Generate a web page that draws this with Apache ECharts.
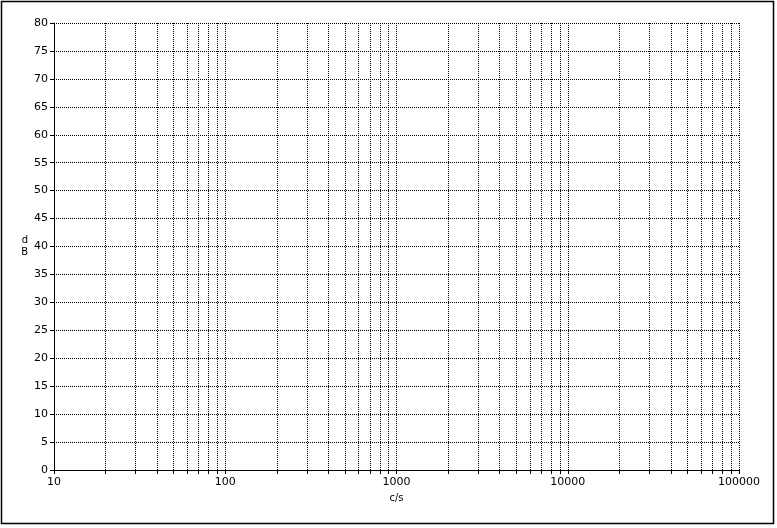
<!DOCTYPE html>
<html>
<head>
<meta charset="utf-8">
<script src="https://cdn.jsdelivr.net/npm/echarts@6/dist/echarts.min.js"></script>
<style>
html, body { margin: 0; padding: 0; background: #fff; }
#chart { width: 777px; height: 528px; }
</style>
</head>
<body>
<div id="chart"></div>
<script>
// frequency axis (c/s), log scale
var freqMin = 10;
var freqMax = 100000;
// level axis (dB)
var dbMin = 0;
var dbMax = 80;
var dbStep = 5;

var chart = echarts.init(document.getElementById('chart'));
var font = 'DejaVu Sans';
var dotted = { color: '#000', type: [1, 1], width: 1 };

var option = {
    animation: false,
    backgroundColor: '#fff',
    grid: { left: 54, right: 38, top: 23, bottom: 58 },
    graphic: [{
        type: 'rect',
        shape: { x: 1.5, y: 1.5, width: 772, height: 522 },
        style: { fill: 'none', stroke: '#000', lineWidth: 1.5 }
    }],
    xAxis: {
        type: 'log',
        logBase: 10,
        min: freqMin,
        max: freqMax,
        name: 'c/s',
        nameLocation: 'middle',
        nameGap: 23,
        nameTextStyle: { color: '#000', fontFamily: font, fontSize: 10 },
        axisLine: { lineStyle: { color: '#000', width: 1 } },
        axisTick: { show: true, length: 4, lineStyle: { color: '#000' } },
        minorTick: { show: true, splitNumber: 9, length: 4, lineStyle: { color: '#000' } },
        axisLabel: {
            color: '#000', fontFamily: font, fontSize: 11, margin: 7,
            formatter: function (v) { return String(Math.round(v)); }
        },
        splitLine: { show: true, lineStyle: dotted },
        minorSplitLine: { show: true, lineStyle: dotted }
    },
    yAxis: {
        type: 'value',
        min: dbMin,
        max: dbMax,
        interval: dbStep,
        name: 'd\nB',
        nameLocation: 'middle',
        nameRotate: 0,
        nameGap: 21,
        nameTextStyle: { color: '#000', fontFamily: font, fontSize: 10, lineHeight: 12, padding: [6, 0, 0, 0] },
        axisLine: { show: true, lineStyle: { color: '#000', width: 1 } },
        axisTick: { show: true, length: 4, lineStyle: { color: '#000' } },
        axisLabel: { color: '#000', fontFamily: font, fontSize: 11, margin: 6 },
        splitLine: { show: true, lineStyle: dotted }
    },
    series: [{
        type: 'line',
        data: []
    }]
};
chart.setOption(option);
</script>
</body>
</html>
